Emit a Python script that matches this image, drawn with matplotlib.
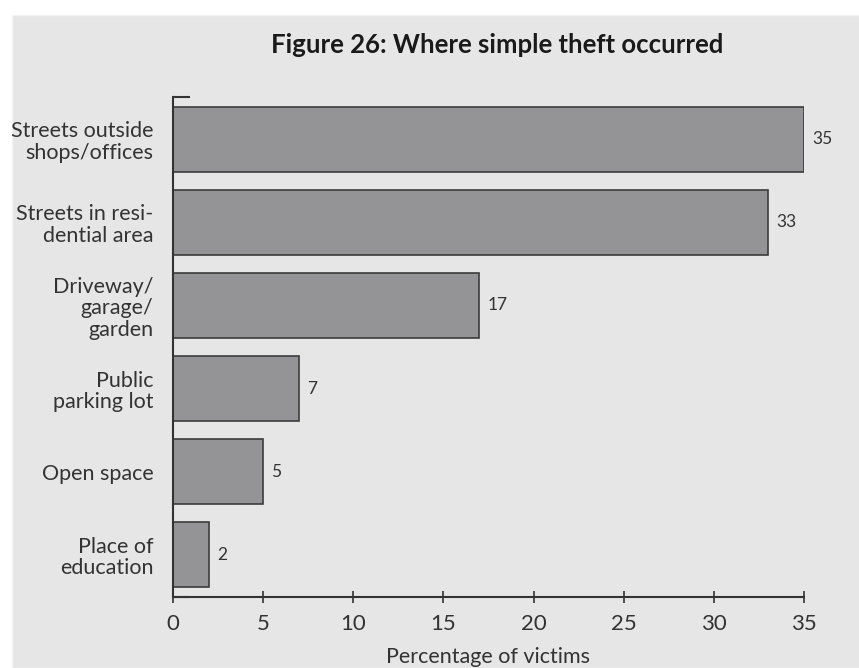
import numpy as np
import matplotlib.pyplot as plt
from matplotlib.patches import Rectangle

# Data
categories = ["Streets outside\nshops/offices", "Streets in resi-\ndential area",
              "Driveway/\ngarage/\ngarden", "Public\nparking lot",
              "Open space", "Place of\neducation"]
values = [35, 33, 17, 7, 5, 2]
xticks = [0, 5, 10, 15, 20, 25, 30, 35]

plt.rcParams['font.family'] = ['Lato', 'DejaVu Sans']
text_col = '#333333'
bg = '#e6e6e6'

fig = plt.figure(figsize=(8.59, 6.68), dpi=100)
fig.patch.set_facecolor('white')
# gray panel behind everything
fig.patches.append(Rectangle((12 / 859, 0), 1, 1 - 15 / 668, transform=fig.transFigure,
                             facecolor=bg, edgecolor='#f4f4f4', lw=1, zorder=-10))

ax = fig.add_axes([173 / 859, 71 / 668, 631 / 859, 500 / 668])
ax.set_facecolor(bg)

pos = np.arange(len(categories))
ax.barh(pos, values, height=0.775, color='#949497', edgecolor='#3c3c3c', lw=1.2)
for p, v in zip(pos, values):
    ax.text(v + 0.45, p, str(v), va='center', ha='left', fontsize=12.5, color=text_col)

ax.set_xlim(0, 35)
ax.set_ylim(5.51, -0.51)
ax.set_xticks(xticks)
ax.set_xticklabels([str(t) for t in xticks], fontsize=16, color=text_col)
ax.tick_params(axis='x', direction='inout', length=9, width=1.2, color='#333333', pad=8)

ax.set_yticks(pos)
ax.set_yticklabels(categories, fontsize=15.5, color=text_col, linespacing=1.1)
ax.tick_params(axis='y', which='major', length=0, pad=14)
ax.set_yticks([5.51, -0.51], minor=True)
ax.tick_params(axis='y', which='minor', direction='in', length=12, width=1.5, color='#333333')

for s in ['top', 'right']:
    ax.spines[s].set_visible(False)
for s in ['left', 'bottom']:
    ax.spines[s].set_color('#333333')
    ax.spines[s].set_linewidth(1.5)

ax.set_xlabel("Percentage of victims", fontsize=15.5, color=text_col, labelpad=9)

fig.text(497 / 859, 1 - 45 / 668, "Figure 26: Where simple theft occurred",
         ha='center', va='center', fontsize=18.5, fontweight='bold', color='#1a1a1a')

plt.savefig('out.png', dpi=100, facecolor=fig.get_facecolor())
